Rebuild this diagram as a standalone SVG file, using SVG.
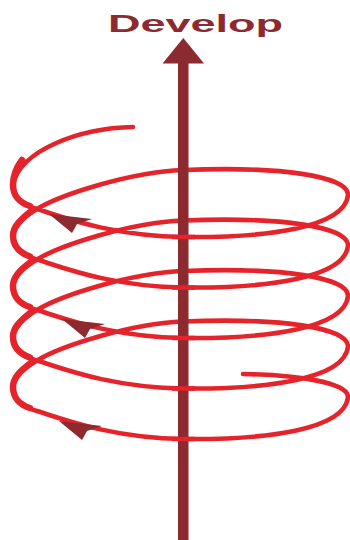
<svg xmlns="http://www.w3.org/2000/svg" xmlns:xlink="http://www.w3.org/1999/xlink" width="350" height="540" viewBox="0 0 350 540">
  <style>
    .wire { fill: none; stroke: #E5232B; stroke-width: 4.6; stroke-linecap: round; stroke-linejoin: round; }
    .wire-thick { fill: none; stroke: #E5232B; stroke-width: 6.5; stroke-linecap: round; }
    .front { fill: none; stroke: #E5232B; stroke-width: 4.6; stroke-linecap: butt; }
    .dark { fill: #8D2A30; }
    .label { font-family: "Liberation Sans", Arial, sans-serif; font-weight: bold; font-size: 23px; fill: #8D2A30; }
  </style>
  <defs>
    <path id="ah" d="M0,0 L43,5 L28,10 L23,19 Z"/>
  </defs>
  <rect width="350" height="540" fill="#FFFFFF"/>

  <g id="label-develop">
    <text class="label" x="108" y="32" textLength="175" lengthAdjust="spacingAndGlyphs">Develop</text>
  </g>

  <g id="spiral">
    <path class="wire" d="M133,127 C80,128 20,150 13,185
      C13,198 22,205 37,209
      C60,216 110,236 183,237
      C265,238 345,228 348,195
      C348,176 280,166 183,170
      C130,172 60,195 37,209
      C22,218 13,226 13,235.5
      C13,248.5 22,255.5 37,259.5
      C60,266.5 110,286.5 183,287.5
      C265,288.5 345,278.5 348,245.5
      C348,226.5 280,216.5 183,220.5
      C130,222.5 60,245.5 37,259.5
      C22,268.5 13,276.5 13,286
      C13,299 22,306 37,310
      C60,317 110,337 183,338
      C265,339 345,329 348,296
      C348,277 280,267 183,271
      C130,273 60,296 37,310
      C22,319 13,327 13,336.5
      C13,349.5 22,356.5 37,360.5
      C60,367.5 110,387.5 183,388.5
      C265,389.5 345,379.5 348,346.5
      C348,327.5 280,317.5 183,321.5
      C130,323.5 60,346.5 37,360.5
      C22,369.5 13,377.5 13,387
      C13,400 22,407 37,411
      C60,418 110,438 183,439
      C265,440 345,430 348,397
      C348,383 300,375 243,374"/>
    <path class="wire-thick" d="M22,160 C16,168 13,176 13,185 C13,196 20,203 30,206
      M30,212 C20,220 13,227 13,235.5 C13,246 20,253 30,256.5
      M30,262.5 C20,270 13,277 13,286 C13,297 20,304 30,307
      M30,313 C20,321 13,328 13,336.5 C13,347 20,354 30,357.5
      M30,363.5 C20,371 13,378 13,387 C13,398 20,405 30,408"/>
  </g>

  <g id="develop-axis">
    <rect class="dark" x="178" y="60" width="10.5" height="480"/>
    <polygon class="dark" points="183.3,38 162.5,63.5 204,63.5"/>
  </g>

  <g id="connectors">
    <path class="front" d="M172,237 L195,237 M172,287.5 L195,287.5 M172,338 L195,338 M172,388.5 L195,388.5 M172,439 L195,439"/>
    <use xlink:href="#ah" class="dark" x="49" y="214"/>
    <use xlink:href="#ah" class="dark" x="62" y="319"/>
    <use xlink:href="#ah" class="dark" x="59" y="421"/>
  </g>
</svg>
